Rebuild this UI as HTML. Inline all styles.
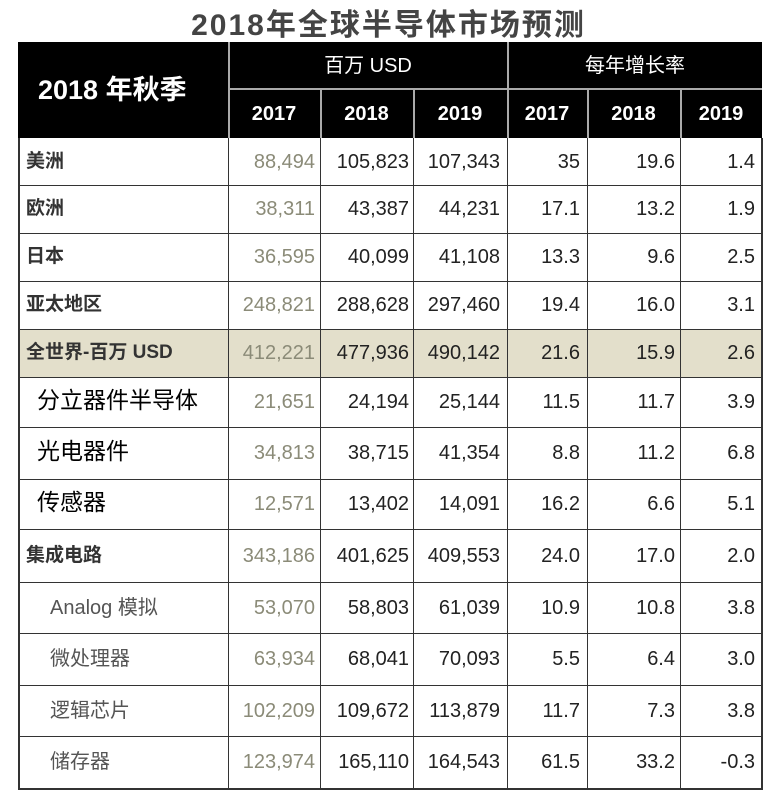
<!DOCTYPE html>
<html><head><meta charset="utf-8"><style>
body{margin:0;width:777px;height:797px;background:#fff;position:relative;overflow:hidden;font-family:"Liberation Sans","Noto Sans CJK SC",sans-serif}
.t{position:absolute;left:0;width:777px;top:0px;text-align:center;font-size:30px;font-weight:bold;color:#444;letter-spacing:2px}
.hd{position:absolute;background:#000;left:18px;top:42px;width:744px;height:96px}
.v,.h{position:absolute;background:#333}
.c{position:absolute;font-size:20px;color:#222;white-space:nowrap;line-height:20px}
.w{color:#fff;font-weight:bold}
.g{color:#8b8b78}
</style></head><body>
<div class="t">2018年全球半导体市场预测</div>
<div class="hd"></div>
<div style="position:absolute;left:18px;top:329px;width:744px;height:48px;background:#e3dfcb"></div>
<div class="v" style="left:228px;top:42px;width:2px;height:96px;background:#aaa"></div>
<div class="h" style="left:228px;top:88px;width:534px;height:2px;background:#aaa"></div>
<div class="v" style="left:507px;top:42px;width:2px;height:96px;background:#aaa"></div>
<div class="v" style="left:320px;top:88px;width:2px;height:50px;background:#aaa"></div>
<div class="v" style="left:413px;top:88px;width:2px;height:50px;background:#aaa"></div>
<div class="v" style="left:587px;top:88px;width:2px;height:50px;background:#aaa"></div>
<div class="v" style="left:680px;top:88px;width:2px;height:50px;background:#aaa"></div>
<div class="v" style="left:18px;top:138px;width:2px;height:651px"></div>
<div class="v" style="left:761px;top:138px;width:2px;height:651px"></div>
<div class="v" style="left:228px;top:138px;width:1px;height:651px"></div>
<div class="v" style="left:320px;top:138px;width:1px;height:651px"></div>
<div class="v" style="left:413px;top:138px;width:1px;height:651px"></div>
<div class="v" style="left:507px;top:138px;width:1px;height:651px"></div>
<div class="v" style="left:587px;top:138px;width:1px;height:651px"></div>
<div class="v" style="left:680px;top:138px;width:1px;height:651px"></div>
<div class="h" style="left:18px;top:185px;width:745px;height:1px"></div>
<div class="h" style="left:18px;top:233px;width:745px;height:1px"></div>
<div class="h" style="left:18px;top:281px;width:745px;height:1px"></div>
<div class="h" style="left:18px;top:329px;width:745px;height:1px"></div>
<div class="h" style="left:18px;top:377px;width:745px;height:1px"></div>
<div class="h" style="left:18px;top:427px;width:745px;height:1px"></div>
<div class="h" style="left:18px;top:479px;width:745px;height:1px"></div>
<div class="h" style="left:18px;top:529px;width:745px;height:1px"></div>
<div class="h" style="left:18px;top:582px;width:745px;height:1px"></div>
<div class="h" style="left:18px;top:633px;width:745px;height:1px"></div>
<div class="h" style="left:18px;top:685px;width:745px;height:1px"></div>
<div class="h" style="left:18px;top:736px;width:745px;height:1px"></div>
<div class="h" style="left:18px;top:788px;width:745px;height:2px"></div>
<div class="c w" style="left:38px;top:76px;font-size:27px;line-height:28px">2018 年秋季</div>
<div class="c w" style="left:228px;width:280px;text-align:center;top:56px;font-weight:normal">百万 USD</div>
<div class="c w" style="left:508px;width:254px;text-align:center;top:56px;font-weight:normal">每年增长率</div>
<div class="c w" style="left:228px;width:92px;text-align:center;top:104px">2017</div>
<div class="c w" style="left:320px;width:93px;text-align:center;top:104px">2018</div>
<div class="c w" style="left:413px;width:94px;text-align:center;top:104px">2019</div>
<div class="c w" style="left:507px;width:80px;text-align:center;top:104px">2017</div>
<div class="c w" style="left:587px;width:93px;text-align:center;top:104px">2018</div>
<div class="c w" style="left:680px;width:82px;text-align:center;top:104px">2019</div>
<div id="rows"></div>
<script>
var R=[
[138,185,"美洲",0,"88,494","105,823","107,343","35","19.6","1.4"],
[185,233,"欧洲",0,"38,311","43,387","44,231","17.1","13.2","1.9"],
[233,281,"日本",0,"36,595","40,099","41,108","13.3","9.6","2.5"],
[281,329,"亚太地区",0,"248,821","288,628","297,460","19.4","16.0","3.1"],
[329,377,"全世界-百万 USD",0,"412,221","477,936","490,142","21.6","15.9","2.6"],
[377,427,"分立器件半导体",1,"21,651","24,194","25,144","11.5","11.7","3.9"],
[427,479,"光电器件",1,"34,813","38,715","41,354","8.8","11.2","6.8"],
[479,529,"传感器",1,"12,571","13,402","14,091","16.2","6.6","5.1"],
[529,582,"集成电路",0,"343,186","401,625","409,553","24.0","17.0","2.0"],
[582,633,"Analog 模拟",2,"53,070","58,803","61,039","10.9","10.8","3.8"],
[633,685,"微处理器",2,"63,934","68,041","70,093","5.5","6.4","3.0"],
[685,736,"逻辑芯片",2,"102,209","109,672","113,879","11.7","7.3","3.8"],
[736,788,"储存器",2,"123,974","165,110","164,543","61.5","33.2","-0.3"]];
var rights=[315,409,500,580,675,755],h="";
R.forEach(function(r){var y=(r[0]+r[1])/2-10;
var st=r[3]==1?"left:37px;font-size:23px;color:#000;top:"+(y-2)+"px":r[3]==2?"left:50px;color:#555;top:"+y+"px":"left:26px;font-weight:bold;color:#333;font-size:19px;top:"+y+"px";
h+='<div class="c" style="'+st+'">'+r[2]+'</div>';
for(var i=0;i<6;i++){h+='<div class="c'+(i==0?' g':'')+'" style="right:'+(777-rights[i])+'px;top:'+y+'px">'+r[4+i]+'</div>';}
});
document.getElementById("rows").innerHTML=h;
</script>
</body></html>
